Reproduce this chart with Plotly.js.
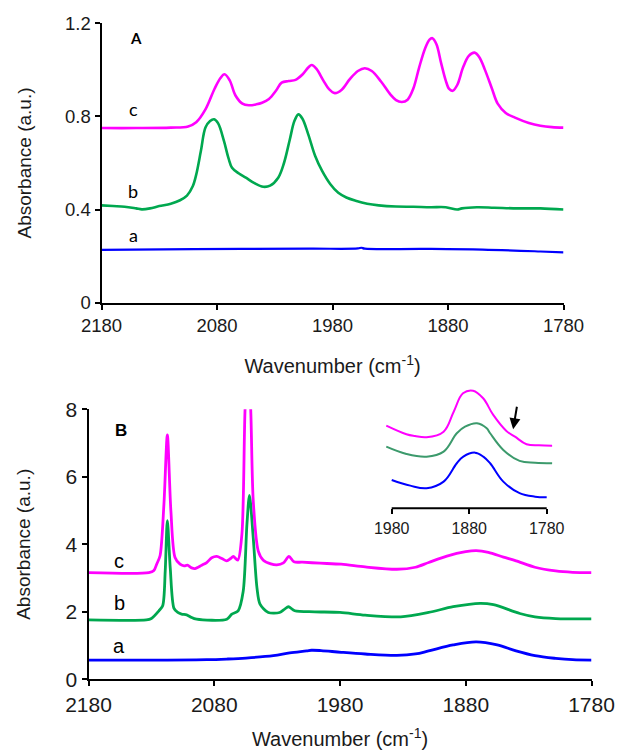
<!DOCTYPE html>
<html><head><meta charset="utf-8">
<script src="https://cdn.plot.ly/plotly-3.0.1.min.js"></script>
<style>html,body{margin:0;padding:0;background:#fff}#chart{width:619px;height:750px}</style>
</head><body><div id="chart"></div>
<script>
// ---------- Panel A ----------
const wnA_c = [2180,2150,2120,2105,2098,2090,2082,2077,2073.5,2069,2064,2058,2052.5,2046,2041,2035,2029,2024,2018,2012,2006,2001,1998,1994,1988,1983,1978,1972,1965,1958,1952,1946,1938,1930,1925,1920,1915,1910,1905,1900,1896,1893.5,1890,1886,1882,1879,1876,1872,1867,1862,1857,1853,1848,1842,1837,1830,1822,1810,1800,1790,1780];
const absA_c = [0.75,0.75,0.752,0.757,0.775,0.83,0.92,0.965,0.981,0.955,0.89,0.855,0.848,0.852,0.859,0.875,0.91,0.945,0.952,0.957,0.98,1.01,1.021,1.005,0.955,0.917,0.900,0.915,0.96,0.995,1.007,0.995,0.95,0.895,0.87,0.862,0.872,0.92,1.01,1.09,1.13,1.136,1.11,1.03,0.955,0.918,0.910,0.935,1.01,1.06,1.074,1.055,1.0,0.92,0.855,0.815,0.795,0.772,0.76,0.754,0.752];
const wnA_b = [2180,2170,2160,2150,2145,2138,2130,2120,2112,2106,2101,2098,2094,2090,2086,2082.5,2079,2074,2070,2067,2061,2055,2048,2040,2034,2027,2022,2017,2013,2009.5,2006,2001,1995,1989,1982,1975,1968,1960,1950,1940,1925,1910,1895,1882,1872,1868,1855,1840,1820,1800,1780];
const absA_b = [0.418,0.415,0.412,0.405,0.401,0.405,0.415,0.425,0.44,0.46,0.50,0.55,0.65,0.752,0.78,0.788,0.77,0.695,0.62,0.58,0.555,0.537,0.515,0.498,0.503,0.537,0.60,0.70,0.78,0.809,0.79,0.723,0.63,0.566,0.51,0.472,0.452,0.438,0.425,0.418,0.413,0.412,0.41,0.41,0.40,0.405,0.41,0.408,0.405,0.405,0.40];
const wnA_a = [2180,2100,2000,1958,1955,1952,1900,1850,1800,1780];
const absA_a = [0.227,0.23,0.232,0.233,0.236,0.232,0.231,0.228,0.22,0.216];

// ---------- Panel B ----------
const wnB_c = [2180,2132,2128,2125.8,2123.1,2120,2117.3,2114.5,2111.2,2107.2,2104,2101.4,2098,2095.3,2090,2086,2082,2078,2074,2070.1,2067,2064.9,2061.3,2058,2055.5,2053.2,2051,2049,2045,2041,2035,2030.3,2025,2020.6,2016.6,2010,1995.9,1979,1960,1934.8,1920,1909.5,1895,1880,1871.7,1862,1850,1840,1825,1808.5,1795,1780];
const absB_c = [3.16,3.16,3.22,3.41,3.66,5.2,7.24,5.0,3.61,3.41,3.36,3.38,3.30,3.28,3.38,3.46,3.60,3.64,3.58,3.51,3.58,3.64,3.53,4.3,8.0,9.5,8.0,5.3,3.8,3.53,3.42,3.39,3.45,3.64,3.48,3.47,3.44,3.41,3.33,3.26,3.32,3.46,3.65,3.78,3.81,3.76,3.62,3.51,3.32,3.21,3.17,3.16];
const wnB_b = [2180,2134,2130,2124,2121,2119,2117.3,2115,2112,2109,2106,2102,2099,2094,2070,2066,2061,2057,2054,2052,2049,2046,2043.6,2037,2028,2024,2021,2016,2000,1980,1960,1931.7,1909.5,1890,1868.5,1858,1837,1825,1808.5,1780];
const absB_b = [1.76,1.76,1.80,2.03,2.18,3.2,4.70,3.3,2.1,1.98,1.93,1.91,1.85,1.78,1.78,1.93,2.03,2.6,4.6,5.45,4.2,2.7,2.23,1.98,1.98,2.08,2.15,2.03,2.0,1.98,1.9,1.85,1.98,2.15,2.25,2.21,1.95,1.85,1.80,1.79];
const wnB_a = [2180,2120,2086,2070,2054.7,2033,2020,2006.5,2002.7,1995,1979,1960,1934.8,1920,1909.5,1890,1871.7,1855,1840,1825,1808.5,1795,1780];
const absB_a = [0.57,0.57,0.58,0.60,0.63,0.70,0.78,0.84,0.86,0.85,0.80,0.75,0.71,0.75,0.84,1.02,1.11,1.02,0.84,0.70,0.62,0.58,0.57];

// ---------- Inset (relative units) ----------
const wnIn_c = [1987,1961,1950,1935,1913,1900,1888,1875,1862,1849,1832,1821,1806,1790,1773];
const absIn_c = [0.796,0.704,0.685,0.672,0.732,0.946,1.143,1.171,1.090,0.911,0.739,0.678,0.597,0.585,0.582];
const wnIn_b = [1987,1961,1935,1913,1896,1885.4,1870,1857.4,1853,1836,1815,1795,1773];
const absIn_b = [0.571,0.493,0.464,0.518,0.715,0.785,0.822,0.768,0.715,0.536,0.418,0.398,0.393];
const wnIn_a = [1980,1956,1935,1913,1896,1887.6,1872.5,1861.8,1853,1836,1815,1795,1780];
const absIn_a = [0.214,0.153,0.125,0.196,0.393,0.464,0.507,0.464,0.393,0.196,0.072,0.035,0.029];

const ticksA_x = [2180,2080,1980,1880,1780];
const ticksA_y = [0,0.4,0.8,1.2];
const ticksB_y = [0,2,4,6,8];
const ticksIn_x = [1980,1880,1780];

const MAG = '#FF00FF', GRN = '#00A84F', BLU = '#0000FF', GRN2 = '#3C9A6C';

function tr(x, y, color, w, xa, ya, sm) {
  return {x: x, y: y, type: 'scatter', mode: 'lines', xaxis: xa, yaxis: ya,
    line: {color: color, width: w, shape: 'spline', smoothing: sm},
    hoverinfo: 'skip', showlegend: false};
}

const data = [
  tr(wnA_a, absA_a, BLU, 2.2, 'x', 'y', 1),
  tr(wnA_b, absA_b, GRN, 2.6, 'x', 'y', 1),
  tr(wnA_c, absA_c, MAG, 2.6, 'x', 'y', 1),
  tr(wnB_a, absB_a, BLU, 2.8, 'x2', 'y2', 1),
  tr(wnB_b, absB_b, GRN, 2.8, 'x2', 'y2', 0.8),
  tr(wnB_c, absB_c, MAG, 2.8, 'x2', 'y2', 0.8),
  tr(wnIn_a, absIn_a, BLU, 2, 'x3', 'y3', 1.1),
  tr(wnIn_b, absIn_b, GRN2, 2, 'x3', 'y3', 1.1),
  tr(wnIn_c, absIn_c, MAG, 2, 'x3', 'y3', 1.1)
];

const FONT = 'Liberation Sans, Arial, sans-serif';
const axBase = {showline: true, linecolor: '#000', linewidth: 2, ticks: 'outside', ticklen: 5,
  tickwidth: 2, tickcolor: '#000', showgrid: false, zeroline: false, fixedrange: true};

const layout = {
  width: 619, height: 750, margin: {l: 0, r: 0, t: 0, b: 0},
  paper_bgcolor: '#fff', plot_bgcolor: 'rgba(0,0,0,0)',
  font: {family: FONT, color: '#1a1a1a'},
  xaxis: Object.assign({}, axBase, {domain: [101.5/619, 563.5/619], range: [2180, 1780], anchor: 'y',
    tickvals: ticksA_x, ticktext: ticksA_x.map(String), tickfont: {size: 18.5, family: FONT},
    title: {text: 'Wavenumber (cm<sup>-1</sup>)', font: {size: 20, family: FONT}, standoff: 24}}),
  yaxis: Object.assign({}, axBase, {domain: [1-302.7/750, 1-23.3/750], range: [0, 1.2], anchor: 'x',
    tickvals: ticksA_y, ticktext: ['0','0.4','0.8','1.2'], tickfont: {size: 18.5, family: FONT},
    title: {text: 'Absorbance (a.u.)', font: {size: 19, family: FONT}, standoff: 28}}),
  xaxis2: Object.assign({}, axBase, {domain: [88.5/619, 591.5/619], range: [2180, 1780], anchor: 'y2',
    tickvals: ticksA_x, ticktext: ticksA_x.map(String), tickfont: {size: 21, family: FONT},
    title: {text: 'Wavenumber (cm<sup>-1</sup>)', font: {size: 20, family: FONT}, standoff: 18}}),
  yaxis2: Object.assign({}, axBase, {domain: [1-679.3/750, 1-409.3/750], range: [0, 8], anchor: 'x2',
    tickvals: ticksB_y, ticktext: ticksB_y.map(String), tickfont: {size: 21, family: FONT},
    title: {text: 'Absorbance (a.u.)', font: {size: 19, family: FONT}, standoff: 30}}),
  xaxis3: Object.assign({}, axBase, {domain: [(391.7-7.75)/619, (546.7+7.75)/619], range: [1990, 1770], anchor: 'y3',
    showline: false, tickvals: ticksIn_x, ticktext: ticksIn_x.map(String), tickfont: {size: 16, family: FONT}}),
  yaxis3: {domain: [1-508.3/750, 1-388/750], range: [-0.09, 1.2], anchor: 'x3', visible: false, fixedrange: true},
  shapes: [
    {type: 'line', xref: 'x3', yref: 'y3 domain', x0: ticksIn_x[0], x1: ticksIn_x[ticksIn_x.length-1], y0: 0, y1: 0,
     line: {color: '#000', width: 2}}
  ],
  annotations: [
    {text: '<b>A</b>', x: 2150, y: 1.136, xref: 'x', yref: 'y', showarrow: false, font: {size: 15, family: 'Lato, sans-serif', color: '#000'}},
    {text: 'c', x: 2152.5, y: 0.83, xref: 'x', yref: 'y', showarrow: false, font: {size: 18, family: 'Lato, sans-serif', color: '#000'}},
    {text: 'b', x: 2152.5, y: 0.48, xref: 'x', yref: 'y', showarrow: false, font: {size: 18, family: 'Lato, sans-serif', color: '#000'}},
    {text: 'a', x: 2152.5, y: 0.29, xref: 'x', yref: 'y', showarrow: false, font: {size: 18, family: 'Lato, sans-serif', color: '#000'}},
    {text: '<b>B</b>', x: 2154, y: 7.37, xref: 'x2', yref: 'y2', showarrow: false, font: {size: 17, family: FONT, color: '#000'}},
    {text: 'c', x: 2155.7, y: 3.5, xref: 'x2', yref: 'y2', showarrow: false, font: {size: 20, family: FONT, color: '#000'}},
    {text: 'b', x: 2155.7, y: 2.27, xref: 'x2', yref: 'y2', showarrow: false, font: {size: 20, family: FONT, color: '#000'}},
    {text: 'a', x: 2155.7, y: 0.99, xref: 'x2', yref: 'y2', showarrow: false, font: {size: 20, family: FONT, color: '#000'}},
    {text: '', x: wnIn_c[11] + 2.3, y: absIn_c[11] + 0.08, xref: 'x3', yref: 'y3', showarrow: true,
     ax: 4, ay: -24, arrowhead: 2, arrowsize: 1.1, arrowwidth: 2, arrowcolor: '#000'}
  ]
};

Plotly.newPlot('chart', data, layout, {displayModeBar: false, staticPlot: true});
</script>
</body></html>
